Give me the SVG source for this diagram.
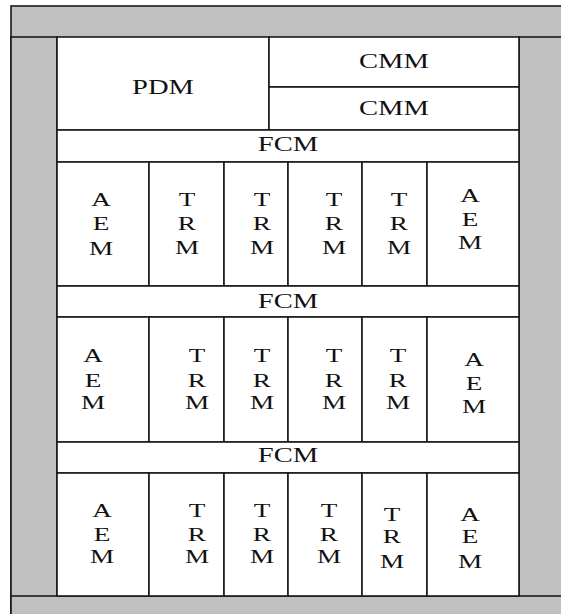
<svg xmlns="http://www.w3.org/2000/svg" width="561" height="614" viewBox="0 0 561 614">
  <style>
    .frame { fill: #c0c0c0; stroke: #1a1a1a; stroke-width: 1.6; }
    .mod { fill: #ffffff; stroke: #1a1a1a; stroke-width: 1.6; }
    text { font-family: "Liberation Serif", "Times New Roman", serif; fill: #111; text-anchor: middle;
           transform-box: fill-box; transform-origin: center; transform: scaleX(1.43); }
    .big { font-size: 20px; }
    .ltr { font-size: 19px; }
  </style>

  <rect width="561" height="614" fill="#ffffff"/>

  <!-- chassis frame -->
  <g id="chassis">
    <rect class="frame" x="11" y="6" width="560" height="620"/>
    <rect class="frame" x="11" y="37" width="46" height="589"/>
    <rect class="frame" x="519" y="37" width="52" height="589"/>
    <rect class="frame" x="11" y="596" width="560" height="30"/>
  </g>

  <!-- top modules -->
  <g id="pdm">
    <rect class="mod" x="57" y="37" width="212" height="93"/>
    <text class="big" x="163" y="94">PDM</text>
  </g>
  <g id="cmm1">
    <rect class="mod" x="269" y="37" width="250" height="50"/>
    <text class="big" x="394" y="68">CMM</text>
  </g>
  <g id="cmm2">
    <rect class="mod" x="269" y="87" width="250" height="43"/>
    <text class="big" x="394" y="115">CMM</text>
  </g>

  <!-- row 1 -->
  <g id="fcm1">
    <rect class="mod" x="57" y="130" width="462" height="32"/>
    <text class="big" x="288" y="151">FCM</text>
  </g>
  <g id="aem1a">
    <rect class="mod" x="57" y="162" width="92" height="124"/>
    <text class="ltr" x="101" y="206">A</text><text class="ltr" x="101" y="230">E</text><text class="ltr" x="101" y="255">M</text>
  </g>
  <g id="trm1a">
    <rect class="mod" x="149" y="162" width="75" height="124"/>
    <text class="ltr" x="187" y="206">T</text><text class="ltr" x="187" y="230">R</text><text class="ltr" x="187" y="254">M</text>
  </g>
  <g id="trm1b">
    <rect class="mod" x="224" y="162" width="64" height="124"/>
    <text class="ltr" x="262" y="206">T</text><text class="ltr" x="262" y="230">R</text><text class="ltr" x="262" y="254">M</text>
  </g>
  <g id="trm1c">
    <rect class="mod" x="288" y="162" width="74" height="124"/>
    <text class="ltr" x="334" y="206">T</text><text class="ltr" x="334" y="230">R</text><text class="ltr" x="334" y="254">M</text>
  </g>
  <g id="trm1d">
    <rect class="mod" x="362" y="162" width="65" height="124"/>
    <text class="ltr" x="399" y="206">T</text><text class="ltr" x="399" y="230">R</text><text class="ltr" x="399" y="254">M</text>
  </g>
  <g id="aem1b">
    <rect class="mod" x="427" y="162" width="92" height="124"/>
    <text class="ltr" x="470" y="202">A</text><text class="ltr" x="470" y="226">E</text><text class="ltr" x="470" y="249">M</text>
  </g>

  <!-- row 2 -->
  <g id="fcm2">
    <rect class="mod" x="57" y="286" width="462" height="31"/>
    <text class="big" x="288" y="308">FCM</text>
  </g>
  <g id="aem2a">
    <rect class="mod" x="57" y="317" width="92" height="125"/>
    <text class="ltr" x="93" y="362">A</text><text class="ltr" x="93" y="387">E</text><text class="ltr" x="93" y="409">M</text>
  </g>
  <g id="trm2a">
    <rect class="mod" x="149" y="317" width="75" height="125"/>
    <text class="ltr" x="197" y="362">T</text><text class="ltr" x="197" y="387">R</text><text class="ltr" x="197" y="409">M</text>
  </g>
  <g id="trm2b">
    <rect class="mod" x="224" y="317" width="64" height="125"/>
    <text class="ltr" x="262" y="362">T</text><text class="ltr" x="262" y="387">R</text><text class="ltr" x="262" y="409">M</text>
  </g>
  <g id="trm2c">
    <rect class="mod" x="288" y="317" width="74" height="125"/>
    <text class="ltr" x="334" y="362">T</text><text class="ltr" x="334" y="387">R</text><text class="ltr" x="334" y="409">M</text>
  </g>
  <g id="trm2d">
    <rect class="mod" x="362" y="317" width="65" height="125"/>
    <text class="ltr" x="398" y="362">T</text><text class="ltr" x="398" y="387">R</text><text class="ltr" x="398" y="409">M</text>
  </g>
  <g id="aem2b">
    <rect class="mod" x="427" y="317" width="92" height="125"/>
    <text class="ltr" x="474" y="366">A</text><text class="ltr" x="474" y="390">E</text><text class="ltr" x="474" y="413">M</text>
  </g>

  <!-- row 3 -->
  <g id="fcm3">
    <rect class="mod" x="57" y="442" width="462" height="31"/>
    <text class="big" x="288" y="462">FCM</text>
  </g>
  <g id="aem3a">
    <rect class="mod" x="57" y="473" width="92" height="123"/>
    <text class="ltr" x="102" y="517">A</text><text class="ltr" x="102" y="541">E</text><text class="ltr" x="102" y="563">M</text>
  </g>
  <g id="trm3a">
    <rect class="mod" x="149" y="473" width="75" height="123"/>
    <text class="ltr" x="197" y="517">T</text><text class="ltr" x="197" y="541">R</text><text class="ltr" x="197" y="563">M</text>
  </g>
  <g id="trm3b">
    <rect class="mod" x="224" y="473" width="64" height="123"/>
    <text class="ltr" x="262" y="517">T</text><text class="ltr" x="262" y="541">R</text><text class="ltr" x="262" y="563">M</text>
  </g>
  <g id="trm3c">
    <rect class="mod" x="288" y="473" width="74" height="123"/>
    <text class="ltr" x="329" y="517">T</text><text class="ltr" x="329" y="541">R</text><text class="ltr" x="329" y="563">M</text>
  </g>
  <g id="trm3d">
    <rect class="mod" x="362" y="473" width="65" height="123"/>
    <text class="ltr" x="392" y="521">T</text><text class="ltr" x="392" y="543">R</text><text class="ltr" x="392" y="568">M</text>
  </g>
  <g id="aem3b">
    <rect class="mod" x="427" y="473" width="92" height="123"/>
    <text class="ltr" x="470" y="521">A</text><text class="ltr" x="470" y="543">E</text><text class="ltr" x="470" y="568">M</text>
  </g>

  <!-- no connectors in this layout -->
  <g id="connectors"/>
</svg>
